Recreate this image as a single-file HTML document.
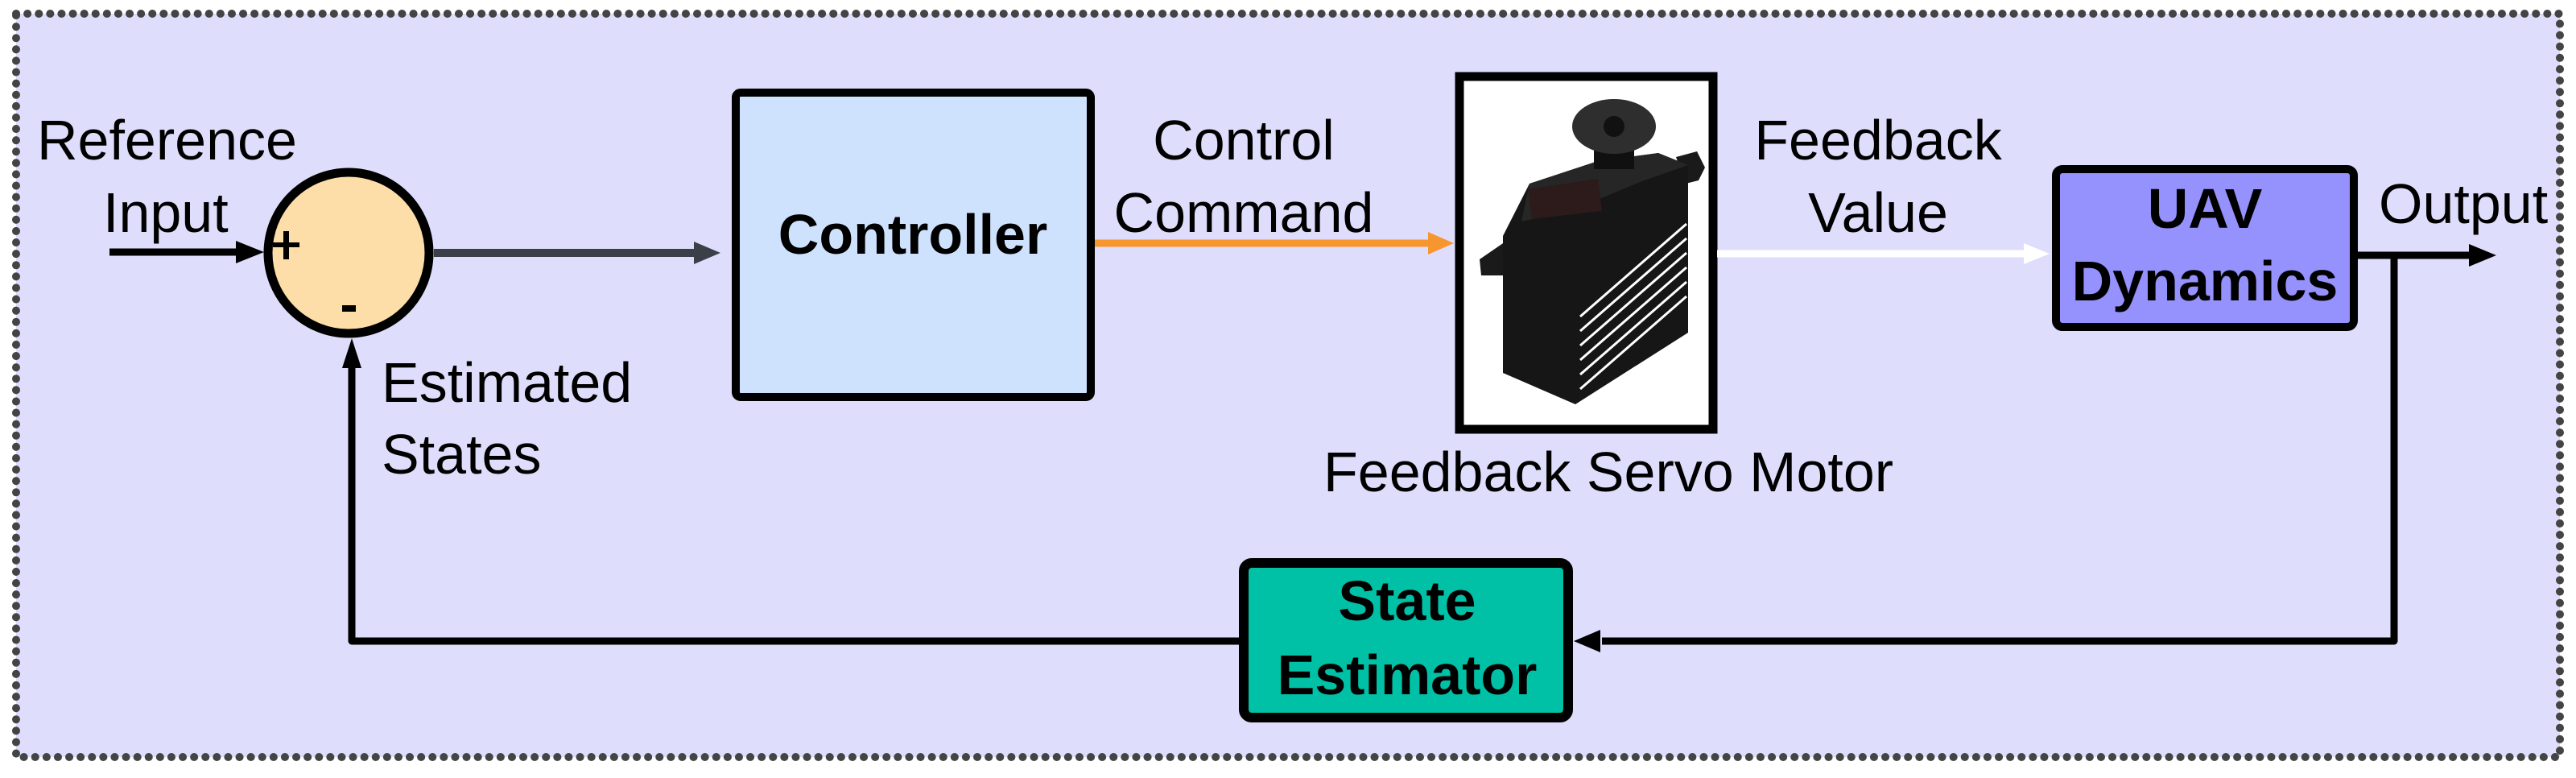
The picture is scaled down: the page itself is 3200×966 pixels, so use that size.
<!DOCTYPE html>
<html><head><meta charset="utf-8"><style>
html,body{margin:0;padding:0;background:#fff;}
svg{display:block;}
text{font-family:"Liberation Sans",sans-serif;}
</style></head><body>
<svg width="3200" height="966" viewBox="0 0 3200 966" xmlns="http://www.w3.org/2000/svg">
<!-- background -->
<rect x="20" y="17" width="3160" height="923" fill="#dedefc"/>
<rect x="20" y="17" width="3160" height="923" fill="none" stroke="#444" stroke-width="10" stroke-dasharray="0.1 14" stroke-linecap="round"/>

<!-- input arrow -->
<line x1="136" y1="313" x2="300" y2="313" stroke="#000" stroke-width="9"/>
<polygon points="293,299 328,313 293,327" fill="#000"/>
<text x="46" y="198" font-size="70">Reference</text>
<text x="128" y="288" font-size="70">Input</text>

<!-- summing junction -->
<circle cx="433" cy="314" r="100" fill="#fddea8" stroke="#000" stroke-width="11"/>
<rect x="339" y="301" width="33" height="6" fill="#000"/>
<rect x="352" y="287" width="7" height="35" fill="#000"/>
<rect x="425" y="379" width="17" height="8" fill="#000"/>

<!-- gray arrow to controller -->
<line x1="539" y1="314" x2="870" y2="314" stroke="#3b3f48" stroke-width="10"/>
<polygon points="862,300 895,314 862,328" fill="#3b3f48"/>

<!-- controller -->
<rect x="914" y="115" width="441" height="378" rx="6" fill="#cfe2fd" stroke="#000" stroke-width="10"/>
<text x="1134" y="315" font-size="70" font-weight="bold" text-anchor="middle">Controller</text>

<!-- orange arrow -->
<line x1="1360" y1="302" x2="1780" y2="302" stroke="#f7962e" stroke-width="9"/>
<polygon points="1774,288 1806,302 1774,316" fill="#f7962e"/>
<text x="1545" y="198" font-size="70" text-anchor="middle">Control</text>
<text x="1545" y="288" font-size="70" text-anchor="middle">Command</text>

<!-- servo box -->
<rect x="1813" y="95" width="315" height="438" fill="#fff" stroke="#000" stroke-width="11"/>
<g>
<polygon points="1838,322 1870,300 1912,298 1912,338 1868,342 1840,342" fill="#1a1a1a"/>
<polygon points="2082,195 2108,188 2118,208 2110,224 2094,228" fill="#1a1a1a"/>
<polygon points="1867,293 1900,228 1985,200 2060,190 2097,205 2097,413 1957,502 1867,463" fill="#161616"/>
<polygon points="1900,228 1985,200 2060,190 2097,205 2040,225 1950,262 1890,275" fill="#262626"/>
<rect x="1980" y="165" width="50" height="45" fill="#101010"/>
<ellipse cx="2005" cy="157" rx="52" ry="34" fill="#2e2e2e"/>
<circle cx="2005" cy="157" r="13" fill="#111"/>
<polygon points="1898,235 1985,222 1990,262 1903,272" fill="#2d1a1a"/>
<g stroke="#fff" stroke-width="3">
<line x1="1963" y1="393" x2="2095" y2="278"/>
<line x1="1963" y1="411" x2="2095" y2="296"/>
<line x1="1963" y1="429" x2="2095" y2="314"/>
<line x1="1963" y1="447" x2="2095" y2="332"/>
<line x1="1963" y1="465" x2="2095" y2="350"/>
<line x1="1963" y1="483" x2="2095" y2="368"/>
</g>
</g>
<text x="1644" y="610" font-size="70">Feedback Servo Motor</text>

<!-- white arrow -->
<line x1="2133" y1="315" x2="2520" y2="315" stroke="#fff" stroke-width="9"/>
<polygon points="2514,302 2546,315 2514,328" fill="#fff"/>
<text x="2333" y="198" font-size="70" text-anchor="middle">Feedback</text>
<text x="2333" y="288" font-size="70" text-anchor="middle">Value</text>

<!-- UAV dynamics -->
<rect x="2554" y="210" width="370" height="196" rx="8" fill="#9591fd" stroke="#000" stroke-width="10"/>
<text x="2739" y="283" font-size="70" font-weight="bold" text-anchor="middle">UAV</text>
<text x="2739" y="373" font-size="70" font-weight="bold" text-anchor="middle">Dynamics</text>

<!-- output -->
<line x1="2928" y1="317" x2="3075" y2="317" stroke="#000" stroke-width="9"/>
<polygon points="3067,303 3101,317 3067,331" fill="#000"/>
<text x="2955" y="277" font-size="70">Output</text>

<!-- feedback path -->
<polyline points="2974,317 2974,796 1990,796" fill="none" stroke="#000" stroke-width="9" stroke-linejoin="round"/>
<polygon points="1955,796 1988,782 1988,810" fill="#000"/>

<!-- state estimator -->
<rect x="1545" y="699" width="403" height="192" rx="10" fill="#00c0a5" stroke="#000" stroke-width="12"/>
<text x="1748" y="770" font-size="70" font-weight="bold" text-anchor="middle">State</text>
<text x="1748" y="862" font-size="70" font-weight="bold" text-anchor="middle">Estimator</text>

<polyline points="1540,796 437,796 437,450" fill="none" stroke="#000" stroke-width="9" stroke-linejoin="round"/>
<polygon points="425,457 437,420 449,457" fill="#000"/>

<text x="474" y="499" font-size="70">Estimated</text>
<text x="474" y="588" font-size="70">States</text>
</svg>
</body></html>
